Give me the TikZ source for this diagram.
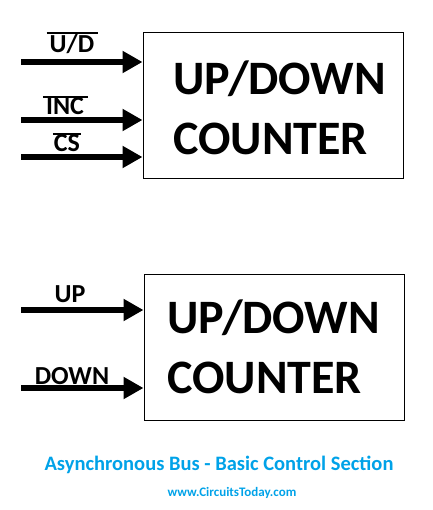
\documentclass[tikz,border=0pt]{standalone}
\usepackage{fontspec}
\setmainfont{Carlito}
\usepackage{xcolor}
\usetikzlibrary{arrows.meta}
\definecolor{ctblue}{HTML}{00A2E8}

\tikzset{
    blockbox/.style={draw, line width=1pt, minimum width=260pt, minimum height=146pt, inner sep=0pt},
    bigtxt/.style={anchor=base west, inner sep=0pt, font=\fontsize{48}{56}\selectfont\bfseries},
    sigtxt/.style={anchor=base, inner sep=0pt, font=\fontsize{26}{30}\selectfont\bfseries},
    sigline/.style={line width=6.5pt, -{Triangle[length=20pt, width=21pt]}},
    negbar/.style={line width=1.4pt},
}

\begin{document}
\begin{tikzpicture}[x=1pt, y=-1pt]
    \useasboundingbox (0,0) rectangle (432,510);

    % ========== Counter with U/D, INC, CS ==========
    \node[blockbox] (cnt1) at (273,106) {};
    \node[bigtxt] (cnt1up) at (173,95) {UP/DOWN};
    \node[bigtxt] (cnt1low) at (173,155) {COUNTER};

    % Inputs
    \coordinate (ud) at (21,62);
    \coordinate (inc) at (21,120);
    \coordinate (cs) at (21,157);
    \draw[sigline] (ud) -- (ud -| cnt1.west);
    \draw[sigline] (inc) -- (inc -| cnt1.west);
    \draw[sigline] (cs) -- (cs -| cnt1.west);

    % Labels (active low, bar drawn above)
    \node[sigtxt] (udlbl) at (72,53) {U/D};
    \node[sigtxt] (inclbl) at (65,115) {INC};
    \node[sigtxt] (cslbl) at (67,152) {CS};
    \draw[negbar] ([shift={(-3,-20)}]udlbl.base west) -- ([shift={(4,-20)}]udlbl.base east);
    \draw[negbar] ([shift={(-3,-18)}]inclbl.base west) -- ([shift={(4,-18)}]inclbl.base east);
    \draw[negbar] ([shift={(-1,-18)}]cslbl.base west) -- ([shift={(1,-18)}]cslbl.base east);

    % ========== Counter with UP, DOWN ==========
    \node[blockbox] (cnt2) at (274,347.5) {};
    \node[bigtxt] (cnt2up) at (167,333) {UP/DOWN};
    \node[bigtxt] (cnt2low) at (167,393) {COUNTER};

    % Inputs
    \coordinate (up) at (21,310);
    \coordinate (down) at (21,388);
    \draw[sigline] (up) -- (up -| cnt2.west);
    \draw[sigline] (down) -- (down -| cnt2.west);

    % Labels
    \node[sigtxt] (uplbl) at (70,302) {UP};
    \node[sigtxt] (downlbl) at (72,384) {DOWN};

    % ========== Caption ==========
    \node[anchor=base, inner sep=0pt, text=ctblue, font=\fontsize{20.5}{24}\selectfont\bfseries] (title) at (219,470) {Asynchronous Bus - Basic Control Section};
    \node[anchor=base, inner sep=0pt, text=ctblue, font=\fontsize{13}{16}\selectfont\bfseries] (site) at (232,496) {www.CircuitsToday.com};
\end{tikzpicture}
\end{document}
